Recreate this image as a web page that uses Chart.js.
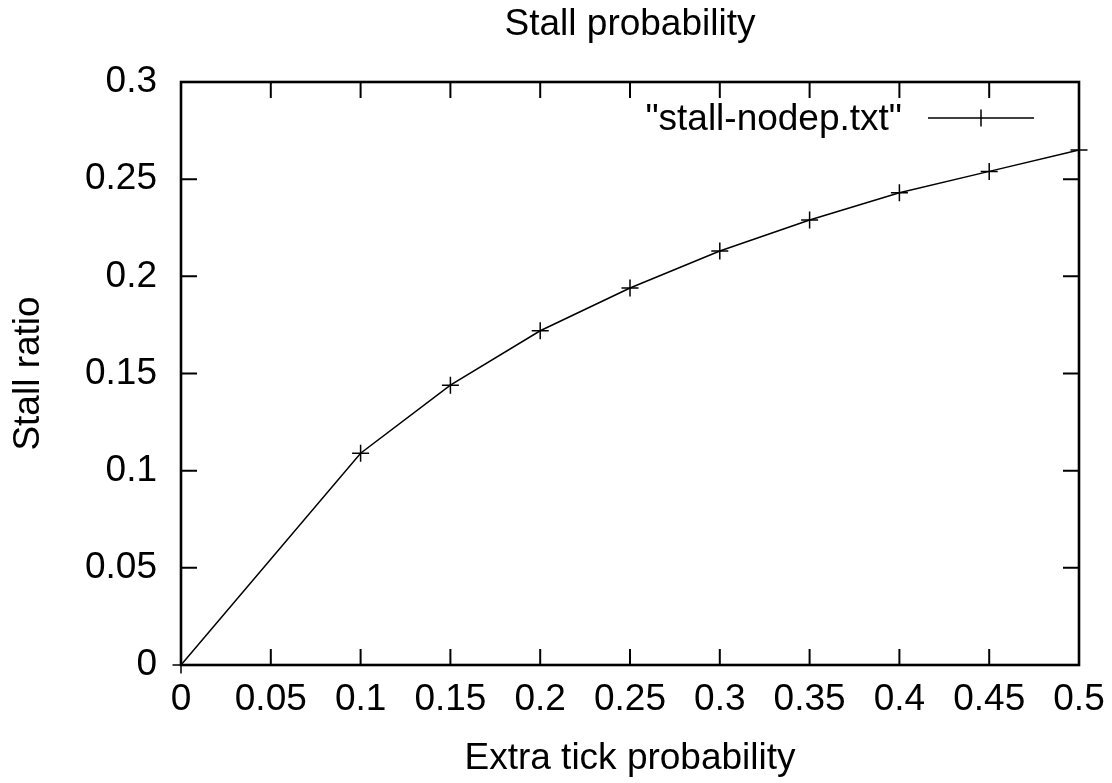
<!DOCTYPE html>
<html>
<head>
<meta charset="utf-8">
<title>Stall probability</title>
<script src="https://cdn.jsdelivr.net/npm/chart.js@4/dist/chart.umd.min.js"></script>
<style>
  html, body { margin: 0; padding: 0; background: #ffffff; }
  #wrap { width: 1112px; height: 783px; }
</style>
</head>
<body>
<div id="wrap"><canvas id="c" width="1112" height="783"></canvas></div>
<script>
// Measured stall ratio for each extra-tick probability
const extraTickProb = [0, 0.1, 0.15, 0.2, 0.25, 0.3, 0.35, 0.4, 0.45, 0.5];
const stallRatio    = [0, 0.109, 0.144, 0.172, 0.194, 0.213, 0.229, 0.243, 0.254, 0.265];
const seriesLabel   = '"stall-nodep.txt"';

// Axis ticks
const xTickValues = [0, 0.05, 0.1, 0.15, 0.2, 0.25, 0.3, 0.35, 0.4, 0.45, 0.5];
const xTickLabels = ['0', '0.05', '0.1', '0.15', '0.2', '0.25', '0.3', '0.35', '0.4', '0.45', '0.5'];
const yTickValues = [0, 0.05, 0.1, 0.15, 0.2, 0.25, 0.3];
const yTickLabels = ['0', '0.05', '0.1', '0.15', '0.2', '0.25', '0.3'];

const FONT = 'Liberation Sans, Arial, Helvetica, sans-serif';
const FSIZE = 37;

// Center the chart title over the plot area rather than the whole canvas
const titleOverPlot = {
  id: 'titleOverPlot',
  afterLayout(chart) {
    const t = chart.titleBlock;
    if (t) {
      t.left = chart.chartArea.left;
      t.right = chart.chartArea.right;
      t.width = t.right - t.left;
    }
  }
};

// Frame around the plot with inward tick marks on all four sides, plus the key
const framePlugin = {
  id: 'frame',
  afterDatasetsDraw(chart) {
    const { ctx, chartArea: a, scales: { x, y } } = chart;
    const tick = 16;
    ctx.save();
    ctx.strokeStyle = '#000';
    ctx.lineCap = 'butt';
    ctx.lineWidth = 2;
    ctx.beginPath();
    xTickValues.forEach(v => {
      const px = x.getPixelForValue(v);
      ctx.moveTo(px, a.bottom); ctx.lineTo(px, a.bottom - tick);
      ctx.moveTo(px, a.top);    ctx.lineTo(px, a.top + tick);
    });
    yTickValues.forEach(v => {
      const py = y.getPixelForValue(v);
      ctx.moveTo(a.left, py);  ctx.lineTo(a.left + tick, py);
      ctx.moveTo(a.right, py); ctx.lineTo(a.right - tick, py);
    });
    ctx.stroke();
    ctx.lineWidth = 2.6;
    ctx.strokeRect(a.left, a.top, a.right - a.left, a.bottom - a.top);

    // key: label on the left, line sample with marker on the right
    const ds = chart.data.datasets[0];
    const lineR = a.right - 45, lineL = lineR - 106, ly = a.top + 36;
    ctx.lineWidth = ds.borderWidth;
    ctx.beginPath();
    ctx.moveTo(lineL, ly); ctx.lineTo(lineR, ly);
    const cx = (lineL + lineR) / 2, r = ds.pointRadius;
    ctx.moveTo(cx - r, ly); ctx.lineTo(cx + r, ly);
    ctx.moveTo(cx, ly - r); ctx.lineTo(cx, ly + r);
    ctx.stroke();
    ctx.fillStyle = '#000';
    ctx.font = FSIZE + 'px ' + FONT;
    ctx.textAlign = 'right';
    ctx.textBaseline = 'alphabetic';
    ctx.fillText(ds.label, lineL - 26, ly + 12);
    ctx.restore();
  }
};

new Chart(document.getElementById('c'), {
  type: 'line',
  data: {
    datasets: [{
      label: seriesLabel,
      data: extraTickProb.map((v, i) => ({ x: v, y: stallRatio[i] })),
      borderColor: '#000',
      backgroundColor: '#000',
      borderWidth: 1.5,
      pointStyle: 'cross',
      pointRadius: 8.5,
      pointBorderWidth: 1.5,
      pointBorderColor: '#000',
      tension: 0,
      fill: false,
      clip: false
    }]
  },
  options: {
    responsive: false,
    animation: false,
    events: [],
    layout: { padding: { left: 0, right: 33, top: 0, bottom: 0 } },
    plugins: {
      legend: { display: false },
      tooltip: { enabled: false },
      title: {
        display: true,
        text: 'Stall probability',
        color: '#000',
        font: { family: FONT, size: FSIZE, weight: 'normal', lineHeight: 1 },
        padding: { top: 6.5, bottom: 38.5 }
      }
    },
    scales: {
      x: {
        type: 'linear',
        min: 0,
        max: 0.5,
        grid: { display: false, drawTicks: false },
        border: { display: false },
        afterBuildTicks: s => { s.ticks = xTickValues.map(v => ({ value: v })); },
        afterFit: s => { s.height = 118; s.paddingLeft = 0; s.paddingRight = 0; },
        ticks: {
          autoSkip: false,
          maxRotation: 0,
          padding: 16.7,
          color: '#000',
          font: { family: FONT, size: FSIZE, lineHeight: 1 },
          callback: (v, i) => xTickLabels[i]
        },
        title: {
          display: true,
          text: 'Extra tick probability',
          color: '#000',
          font: { family: FONT, size: FSIZE, lineHeight: 1 },
          padding: { top: 0, bottom: 5.8 }
        }
      },
      y: {
        type: 'linear',
        min: 0,
        max: 0.3,
        grid: { display: false, drawTicks: false },
        border: { display: false },
        afterBuildTicks: s => { s.ticks = yTickValues.map(v => ({ value: v })); },
        afterFit: s => { s.width = 181; s.paddingTop = 0; s.paddingBottom = 0; },
        ticks: {
          autoSkip: false,
          padding: 24,
          color: '#000',
          font: { family: FONT, size: FSIZE, lineHeight: 1 },
          callback: (v, i) => yTickLabels[i]
        },
        title: {
          display: true,
          text: 'Stall ratio',
          color: '#000',
          font: { family: FONT, size: FSIZE, lineHeight: 1 },
          padding: { top: 10.7, bottom: 0 }
        }
      }
    }
  },
  plugins: [titleOverPlot, framePlugin]
});
</script>
</body>
</html>
